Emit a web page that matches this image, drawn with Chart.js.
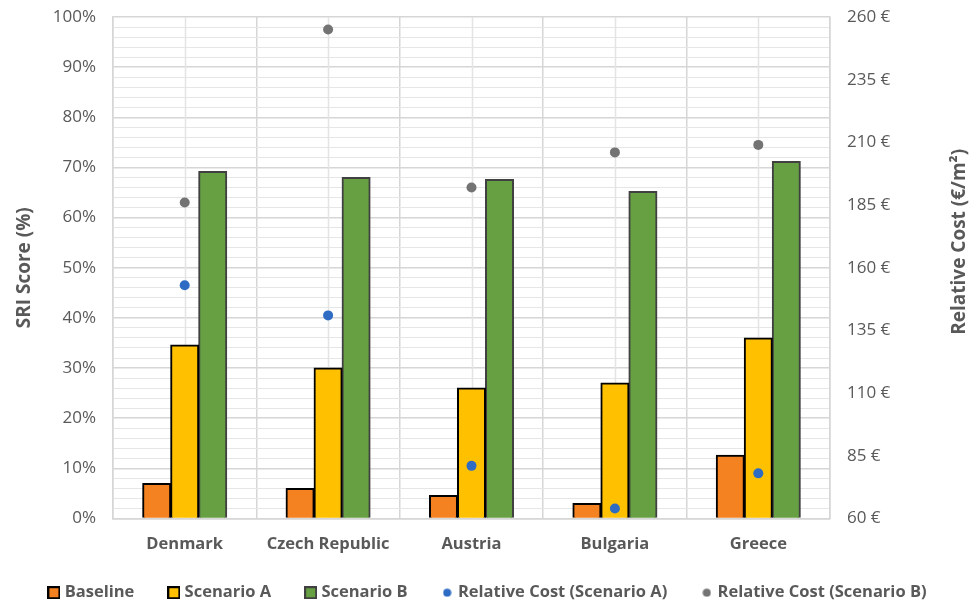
<!DOCTYPE html>
<html lang="en">
<head>
    <meta charset="UTF-8">
    <title>SRI Score and Relative Cost</title>
    <style>
        html, body { margin: 0; padding: 0; background: #fff; }
        .chart-container { width: 973px; height: 606px; }
    </style>
    <script src="https://cdn.jsdelivr.net/npm/chart.js"></script>
</head>
<body>
    <div class="chart-container">
        <canvas id="sriChart"></canvas>
    </div>

    <script>
        // Chart data
        const categories = ['Denmark', 'Czech Republic', 'Austria', 'Bulgaria', 'Greece'];
        const baseline = [7, 6, 4.6, 3, 12.6];
        const scenarioA = [34.6, 30, 26, 27, 36];
        const scenarioB = [69.2, 68, 67.6, 65.2, 71.2];
        const costA = [153, 141, 81, 64, 78];
        const costB = [186, 255, 192, 206, 209];

        const textGrey = '#595959';
        const fontFamily = '"Open Sans", "Liberation Sans", sans-serif';

        // small legend markers: bordered squares for bars, dots for the cost points
        function makeMarker(ds) {
            const c = document.createElement('canvas');
            const g = c.getContext('2d');
            if (ds.type === 'line') {
                c.width = 9; c.height = 9;
                g.fillStyle = ds.backgroundColor;
                g.beginPath();
                g.arc(4.5, 4.5, 4, 0, Math.PI * 2);
                g.fill();
            } else {
                c.width = 13; c.height = 13;
                g.fillStyle = ds.borderColor;
                g.fillRect(0, 0, 13, 13);
                g.fillStyle = ds.backgroundColor;
                g.fillRect(2, 2, 9, 9);
            }
            return c;
        }

        // light vertical lines through each category centre
        const centreLines = {
            id: 'centreLines',
            beforeDatasetsDraw(chart) {
                const { ctx, chartArea, scales } = chart;
                ctx.save();
                ctx.strokeStyle = '#e4e4e4';
                ctx.lineWidth = 1.5;
                categories.forEach((c, i) => {
                    const x = Math.round(scales.x.getPixelForValue(i)) + 0.5;
                    ctx.beginPath();
                    ctx.moveTo(x, chartArea.top);
                    ctx.lineTo(x, chartArea.bottom);
                    ctx.stroke();
                });
                ctx.restore();
            }
        };

        // right axis title reads bottom-to-top like the left one
        const rightTitle = {
            id: 'rightTitle',
            afterDraw(chart) {
                const { ctx, chartArea } = chart;
                ctx.save();
                ctx.translate(chart.width - 13, (chartArea.top + chartArea.bottom) / 2 - 26);
                ctx.rotate(-Math.PI / 2);
                ctx.font = 'bold 19px ' + fontFamily;
                ctx.fillStyle = textGrey;
                ctx.textAlign = 'center';
                ctx.textBaseline = 'middle';
                ctx.fillText('Relative Cost (€/m²)', 0, 0);
                ctx.restore();
            }
        };

        const defaultLabels = Chart.defaults.plugins.legend.labels.generateLabels;

        const ctx = document.getElementById('sriChart').getContext('2d');
        const chart = new Chart(ctx, {
            type: 'bar',
            data: {
                labels: categories,
                datasets: [
                    { label: 'Baseline', data: baseline, backgroundColor: '#F58220', borderColor: '#000000', borderWidth: 2, yAxisID: 'y', order: 1 },
                    { label: 'Scenario A', data: scenarioA, backgroundColor: '#FFC000', borderColor: '#000000', borderWidth: 2, yAxisID: 'y', order: 1 },
                    { label: 'Scenario B', data: scenarioB, backgroundColor: '#66A043', borderColor: '#404040', borderWidth: 2, yAxisID: 'y', order: 1 },
                    { type: 'line', label: 'Relative Cost (Scenario A)', data: costA, showLine: false, yAxisID: 'y1', order: 0,
                      backgroundColor: '#2E6CC4', borderColor: '#2E6CC4', borderWidth: 0, pointRadius: 5, pointHoverRadius: 5 },
                    { type: 'line', label: 'Relative Cost (Scenario B)', data: costB, showLine: false, yAxisID: 'y1', order: 0,
                      backgroundColor: '#737373', borderColor: '#737373', borderWidth: 0, pointRadius: 5, pointHoverRadius: 5 }
                ]
            },
            options: {
                responsive: true,
                maintainAspectRatio: false,
                animation: false,
                layout: { padding: { top: 0, left: 9, right: 4, bottom: -5 } },
                datasets: {
                    bar: { categoryPercentage: 0.586, barPercentage: 1.0, borderSkipped: 'bottom', inflateAmount: 0.5 }
                },
                plugins: {
                    tooltip: { enabled: false },
                    legend: {
                        position: 'bottom',
                        labels: {
                            usePointStyle: true,
                            boxWidth: 5,
                            boxHeight: 13,
                            padding: 37,
                            color: textGrey,
                            font: { family: fontFamily, size: 16.5, weight: 'bold' },
                            sort: (a, b) => a.datasetIndex - b.datasetIndex,
                            generateLabels: chart => defaultLabels(chart).map(item => {
                                item.pointStyle = makeMarker(chart.data.datasets[item.datasetIndex]);
                                return item;
                            })
                        }
                    }
                },
                scales: {
                    x: {
                        grid: { color: '#d6d6d6', lineWidth: 1.5, offset: true, drawTicks: false },
                        border: { color: '#d6d6d6', width: 1.5 },
                        // mirrored labels with negative padding land below the axis and are not clipped
                        ticks: { mirror: true, color: textGrey, padding: -36, font: { family: fontFamily, size: 16.5, weight: 'bold' } },
                        afterFit: scale => { scale.height = 29; }
                    },
                    y: {
                        position: 'left',
                        min: 0,
                        max: 100,
                        grid: {
                            drawTicks: false,
                            color: c => (c.tick.value % 10 === 0 ? '#d6d6d6' : '#e6e6e6'),
                            lineWidth: c => (c.tick.value % 10 === 0 ? 1.5 : 1)
                        },
                        border: { color: '#d6d6d6', width: 1.5 },
                        ticks: {
                            stepSize: 2,
                            autoSkip: false,
                            padding: 17,
                            color: textGrey,
                            font: { family: fontFamily, size: 17, lineHeight: 0 },
                            callback: v => (v % 10 === 0 ? v + '%' : '')
                        },
                        title: { display: true, text: 'SRI Score (%)', color: textGrey, font: { family: fontFamily, size: 19, weight: 'bold' }, padding: { top: 4, bottom: 4 } },
                        afterFit: scale => { scale.width = 104; }
                    },
                    y1: {
                        position: 'right',
                        min: 60,
                        max: 260,
                        grid: { display: false, drawTicks: false },
                        border: { color: '#d6d6d6', width: 1.5 },
                        ticks: {
                            stepSize: 25,
                            padding: 17,
                            color: textGrey,
                            font: { family: fontFamily, size: 17, lineHeight: 0 },
                            callback: v => v + ' €'
                        },
                        afterFit: scale => { scale.width = 139; }
                    }
                }
            },
            plugins: [centreLines, rightTitle]
        });
    </script>
</body>
</html>
